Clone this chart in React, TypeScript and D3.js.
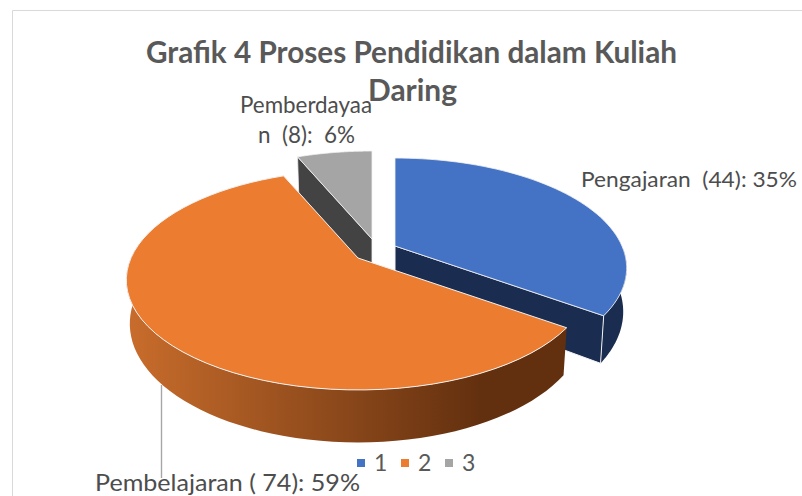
import React from "react";
import * as d3 from "d3";

const categories = ["1", "2", "3"];
const names = ["Pengajaran", "Pembelajaran", "Pemberdayaan"];
const values = [44, 74, 8];
const colors = ["#4472C4", "#EC7C30", "#A5A5A5"];
const wallColors = ["#1A2C50", "#63300F", "#434343"];
const titleLines = ["Grafik 4 Proses Pendidikan dalam Kuliah", "Daring"];

const width = 802;
const height = 496;
const font = "Lato, 'Open Sans', sans-serif";

// apex of each exploded slice on the page
const apexes = [
  { x: 395, y: 246 },
  { x: 358, y: 258 },
  { x: 372, y: 239 },
];
const R = 227;
const tilt = 0.465;
const persp = 0.2;
const depth = 42;

const pie = d3.pie<number>().sort(null).startAngle(0).endAngle(2 * Math.PI);
const slices = pie(values);

// flat pie angle -> point on the tilted disc (a little perspective, near side bigger)
const rim = (a: number, apex: { x: number; y: number }, low = false): [number, number] => {
  const s = 1 / (1 + persp * Math.cos(a));
  const x = R * s * Math.sin(a);
  const y = -R * s * tilt * Math.cos(a);
  if (!low) return [apex.x + x, apex.y + y];
  return [apex.x + x * 0.985, apex.y + y + depth * s];
};

const line = d3.line();
const arcPts = (a0: number, a1: number, apex: { x: number; y: number }, low = false) =>
  d3.range(0, 61).map((i) => rim(a0 + ((a1 - a0) * i) / 60, apex, low));

const lowApex = (apex: { x: number; y: number }): [number, number] => [apex.x, apex.y + depth];

const topFace = (i: number) => {
  const s = slices[i];
  const apex = apexes[i];
  return line([[apex.x, apex.y], ...arcPts(s.startAngle, s.endAngle, apex)]) + "Z";
};

const outerWall = (i: number, a0: number, a1: number) => {
  const apex = apexes[i];
  return line([...arcPts(a0, a1, apex), ...arcPts(a0, a1, apex, true).reverse()]) + "Z";
};

const sideWall = (i: number, a: number) => {
  const apex = apexes[i];
  return line([[apex.x, apex.y], rim(a, apex), rim(a, apex, true), lowApex(apex)]) + "Z";
};

const pct = (i: number) => d3.format(".0%")(values[i] / d3.sum(values));

export default function App() {
  const legendX = d3.scalePoint<string>().domain(categories).range([361, 449]);
  const wallEdge = "#F2F2F2";
  const fit = { lengthAdjust: "spacingAndGlyphs" as const, xmlSpace: "preserve" };
  return (
    <svg
      width={width}
      height={height}
      style={{ position: "absolute", left: 0, top: 0, background: "#fff" }}
    >
      <defs>
        <linearGradient id="orangeWall" gradientUnits="userSpaceOnUse" x1={125} x2={480} y1={0} y2={0}>
          <stop offset="0" stopColor="#C96D2C" />
          <stop offset="1" stopColor={wallColors[1]} />
        </linearGradient>
      </defs>

      <path d="M802,10.5H12.5V496" fill="none" stroke="#D9D9D9" strokeWidth={1} />

      {/* gray slice */}
      <path d={sideWall(2, slices[2].startAngle)} fill={wallColors[2]} stroke={wallEdge} strokeWidth={0.8} />
      <path d={topFace(2)} fill={colors[2]} stroke={wallEdge} strokeWidth={0.8} />

      {/* blue slice */}
      <path d={outerWall(0, 1.6, slices[0].endAngle)} fill={wallColors[0]} />
      <path d={sideWall(0, slices[0].endAngle)} fill={wallColors[0]} stroke={wallEdge} strokeWidth={1} />
      <path d={topFace(0)} fill={colors[0]} stroke={wallEdge} strokeWidth={0.8} />

      {/* orange slice */}
      <path d={outerWall(1, slices[1].startAngle, 4.9)} fill="url(#orangeWall)" />
      <path d={topFace(1)} fill={colors[1]} stroke={wallEdge} strokeWidth={1} />

      <line x1={161.5} x2={161.5} y1={385} y2={478} stroke="#A6A6A6" strokeWidth={1.4} />

      <g fontFamily={font} fontWeight={700} fontSize={31} fill="#595959">
        <text x={146} y={63} textLength={531} {...fit}>
          {titleLines[0]}
        </text>
        <text x={368} y={101} textLength={89} {...fit}>
          {titleLines[1]}
        </text>
      </g>

      <g fontFamily={font} fontSize={22} fill="#4D4D4D">
        <text x={581} y={187} textLength={216} {...fit}>{`${names[0]}  (${values[0]}): ${pct(0)}`}</text>
        <text x={95} y={491} textLength={265} {...fit} fontSize={24}>{`${names[1]} ( ${values[1]}): ${pct(1)}`}</text>
        <text x={240} y={113} textLength={132} {...fit} fontSize={23}>{names[2].slice(0, -1)}</text>
        <text x={258} y={143} textLength={97} {...fit} fontSize={23}>{`${names[2].slice(-1)}  (${values[2]}):  ${pct(2)}`}</text>
      </g>

      {categories.map((c, i) => (
        <g key={c} transform={`translate(${legendX(c)},463)`}>
          <rect x={-4} y={-4} width={8} height={8} fill={colors[i]} />
          <text x={13} y={8} fontFamily={font} fontSize={23} fill="#595959">
            {c}
          </text>
        </g>
      ))}
    </svg>
  );
}
